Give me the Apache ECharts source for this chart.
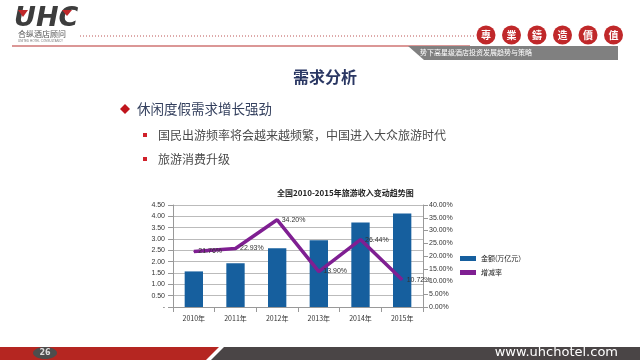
<!DOCTYPE html>
<html><head><meta charset="utf-8">
<script src="https://cdn.jsdelivr.net/npm/echarts@6/dist/echarts.min.js"></script>
<style>html,body{margin:0;padding:0;background:#fff}#c{width:640px;height:360px}</style>
</head><body><div id="c"></div>
<script>
const categories = ['2010年','2011年','2012年','2013年','2014年','2015年'];
const amountValues = [1.57, 1.93, 2.59, 2.95, 3.73, 4.13];
const growthValues = [21.76, 22.93, 34.20, 13.90, 26.44, 10.72];
const seriesNames = ['金额(万亿元）', '增减率'];
const chartTitle = '全国2010-2015年旅游收入变动趋势图';
const slideTitle = '需求分析';
const bullet1 = '休闲度假需求增长强劲';
const subBullets = ['国民出游频率将会越来越频繁，中国进入大众旅游时代', '旅游消费升级'];
const sealChars = ['專','業','鑄','造','價','值'];
const bannerText = '势下高星级酒店投资发展趋势与策略';

const CJK = '"Noto Sans CJK SC", "Noto Sans", sans-serif';
const chart = echarts.init(document.getElementById('c'));

const graphics = [];
// header logo
graphics.push({type:'text', left:14, top:5, style:{text:'UHC', font:'italic bold 27px "DejaVu Sans", sans-serif', fill:'#3d3d3d'}});
graphics.push({type:'polygon', shape:{points:[[18,10],[28,10],[23,17]]}, style:{fill:'#c0282a'}});
graphics.push({type:'polygon', shape:{points:[[62,10],[72,10],[67,16]]}, style:{fill:'#c0282a'}});
graphics.push({type:'text', left:18, top:30, style:{text:'合纵酒店顾问', font:'8px '+CJK, fill:'#555'}});
graphics.push({type:'text', left:18, top:40, style:{text:'UNITED HOTEL CONSULTANCY', font:'3px sans-serif', fill:'#777'}});
graphics.push({type:'line', shape:{x1:80, y1:36, x2:476, y2:36}, style:{stroke:'#b55', lineWidth:1, lineDash:[1,2]}});
graphics.push({type:'line', shape:{x1:12, y1:46, x2:470, y2:46}, style:{stroke:'#b8312f', lineWidth:1.2}});
sealChars.forEach((ch,i)=>{
  const cx = 486 + i*25.5;
  graphics.push({type:'circle', shape:{cx:cx, cy:35, r:9.5}, style:{fill:'#c0282a'}});
  graphics.push({type:'text', x:cx, y:35, style:{text:ch, font:'bold 10px '+CJK, fill:'#fff', align:'center', verticalAlign:'middle'}});
});
graphics.push({type:'polygon', shape:{points:[[408,46],[618,46],[618,60],[424,60]]}, style:{fill:'#808080'}});
graphics.push({type:'text', left:420, top:49, style:{text:bannerText, font:'7px '+CJK, fill:'#fff'}});
// slide text
graphics.push({type:'text', x:325, y:77, style:{text:slideTitle, font:'bold 16px '+CJK, fill:'#2a3763', align:'center', verticalAlign:'middle'}});
graphics.push({type:'polygon', shape:{points:[[125,104],[130,109],[125,114],[120,109]]}, style:{fill:'#c0141c'}});
graphics.push({type:'text', x:137, y:109, style:{text:bullet1, font:'13.5px '+CJK, fill:'#34405e', verticalAlign:'middle'}});
subBullets.forEach((t,i)=>{
  const y = 135 + i*24;
  graphics.push({type:'rect', shape:{x:143, y:y-2, width:4, height:4}, style:{fill:'#d0202a'}});
  graphics.push({type:'text', x:158, y:y, style:{text:t, font:'12px '+CJK, fill:'#4a4a4a', verticalAlign:'middle'}});
});
// footer
graphics.push({type:'polygon', shape:{points:[[0,347],[219,347],[206,360],[0,360]]}, style:{fill:'#b52621'}});
graphics.push({type:'polygon', shape:{points:[[224,347],[640,347],[640,360],[211,360]]}, style:{fill:'#4a4546'}});
graphics.push({type:'ellipse', shape:{cx:45, cy:353, rx:12, ry:6}, style:{fill:'#4d4d4d'}});
graphics.push({type:'text', x:45, y:353, style:{text:'26', font:'bold 8px "DejaVu Sans", sans-serif', fill:'#ddd', align:'center', verticalAlign:'middle'}});
graphics.push({type:'text', x:618, y:353, style:{text:'www.uhchotel.com', font:'13px "DejaVu Sans", sans-serif', fill:'#fff', align:'right', verticalAlign:'middle'}});

const labelOffsets = [[-12,2],[0,0],[-6,-6],[-12,6],[-4,2],[-4,2]];

chart.setOption({
  animation:false,
  title:{text:chartTitle, left:272, top:184, textStyle:{fontSize:8, fontWeight:'bold', color:'#222', fontFamily:CJK}},
  grid:{left:173, right:217, top:205, bottom:53, containLabel:false},
  legend:{orient:'vertical', left:455, top:250, itemWidth:16, itemHeight:5, itemGap:7,
    textStyle:{fontSize:7, color:'#222', fontFamily:CJK},
    data:[{name:seriesNames[0], icon:'rect'}, {name:seriesNames[1], icon:'rect'}]},
  xAxis:{type:'category', data:categories,
    axisLine:{lineStyle:{color:'#999'}}, axisTick:{show:true, lineStyle:{color:'#999'}},
    axisLabel:{fontSize:7, color:'#333', fontFamily:CJK, margin:8}},
  yAxis:[
    {type:'value', min:0, max:4.5, interval:0.5,
      axisLine:{show:true, lineStyle:{color:'#999'}}, axisTick:{show:true, lineStyle:{color:'#999'}},
      splitLine:{lineStyle:{color:'#bbb'}},
      axisLabel:{fontSize:7, color:'#333', margin:8, formatter:v=> v===0 ? '-' : v.toFixed(2)}},
    {type:'value', min:0, max:40, interval:5,
      axisLine:{show:true, lineStyle:{color:'#999'}}, axisTick:{show:true, lineStyle:{color:'#999'}},
      splitLine:{show:false},
      axisLabel:{fontSize:7, color:'#333', margin:6, formatter:v=> v.toFixed(2)+'%'}}
  ],
  series:[
    {name:seriesNames[0], type:'bar', data:amountValues, barWidth:'44%', itemStyle:{color:'#165f9e'}, z:2},
    {name:seriesNames[1], type:'line', yAxisIndex:1, symbol:'circle', symbolSize:1, showSymbol:true, z:3,
      lineStyle:{color:'#7f1f92', width:3.5}, itemStyle:{color:'#7f1f92'},
      data:growthValues.map((v,i)=>({value:v, label:{show:true, offset:labelOffsets[i]}})),
      label:{show:true, position:'right', fontSize:7, color:'#333', distance:4, formatter:p=>Number(p.value).toFixed(2)+'%'},
      labelLayout:{hideOverlap:false}}
  ],
  graphic:graphics
});
</script></body></html>
